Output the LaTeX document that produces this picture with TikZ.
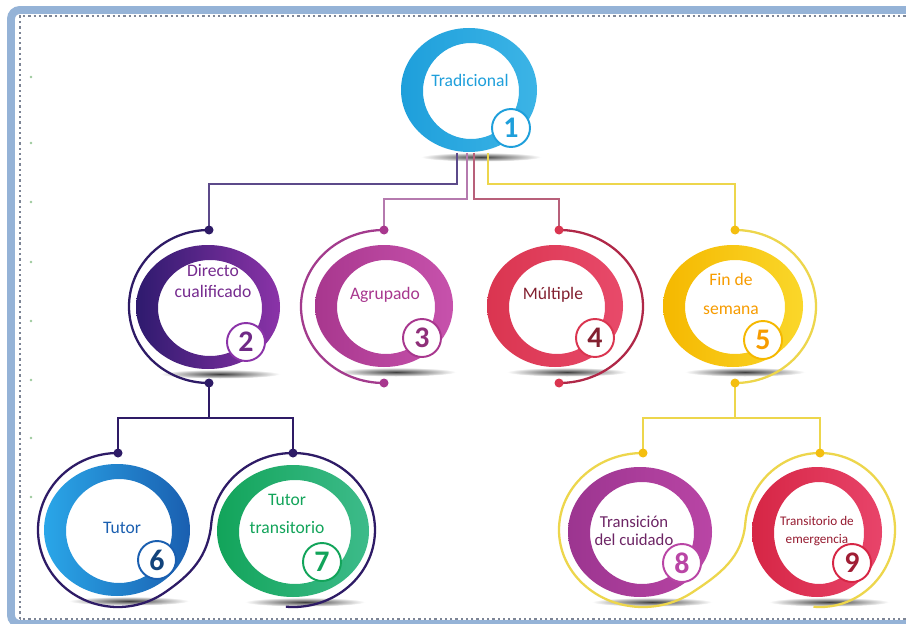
\documentclass[tikz,border=0pt]{standalone}
\usepackage{fontspec}
\setmainfont{Carlito}
\usepackage{tikz}

\definecolor{frameblue}{HTML}{95B3D7}
\definecolor{framedot}{HTML}{7D8596}
\definecolor{r1a}{HTML}{1E9FDB}\definecolor{r1b}{HTML}{3CB4E6}
\definecolor{r2a}{HTML}{2E1A6E}\definecolor{r2b}{HTML}{8B33A8}
\definecolor{r3a}{HTML}{A8378E}\definecolor{r3b}{HTML}{C752AC}
\definecolor{r4a}{HTML}{DA3550}\definecolor{r4b}{HTML}{E84A6A}
\definecolor{r5a}{HTML}{F5B800}\definecolor{r5b}{HTML}{FAD72A}
\definecolor{r6a}{HTML}{2AA6E8}\definecolor{r6b}{HTML}{1A5FB0}
\definecolor{r7a}{HTML}{12A45A}\definecolor{r7b}{HTML}{3DBB8A}
\definecolor{r8a}{HTML}{9C3590}\definecolor{r8b}{HTML}{B945A5}
\definecolor{r9a}{HTML}{D62645}\definecolor{r9b}{HTML}{E8446A}
\definecolor{purpleline}{HTML}{5C4A8A}
\definecolor{darkpurple}{HTML}{2E1B66}
\definecolor{pinkline}{HTML}{B57AAE}
\definecolor{redline}{HTML}{B8607A}
\definecolor{yellowline}{HTML}{EDD64C}
\definecolor{arcthree}{HTML}{A33B8D}
\definecolor{arcfour}{HTML}{B02848}

\begin{document}
\begin{tikzpicture}[x=0.02cm, y=0.02cm,
		label/.style={align=center, font=\fontsize{10}{16}\selectfont},
		badge/.style={circle, fill=white, draw, line width=1.1pt, minimum size=0.76cm, inner sep=0pt, font=\bfseries\fontsize{17}{17}\selectfont},
		link/.style={line width=1.1pt},
		swirl/.style={line width=1.3pt}]
		\useasboundingbox (0,0) rectangle (906,623);
		\fill[white] (0,0) rectangle (906,623);
		\draw[frameblue, line width=4.5pt, rounded corners=5pt] (11,-1) rectangle (918,613);
		\draw[framedot, line width=1.3pt, dash pattern=on 1.3pt off 1.7pt] (20,4) rectangle (914,607);
		\foreach \y in {546,480,421,361,302,243,185,126}
			\fill[green!30!gray!60] (31,\y) circle (1.3);
		\foreach \cx/\cy/\rx/\ry in {469/533/68/62, 208/316/72/62, 384/317/69/61, 555/317/68/61, 733/317/70/61, 117/93/73/66, 293/92/76/66, 640/91/72/65, 817/91/65/65}
			\shade[inner color=black!75, outer color=white] ({\cx+12},{\cy-\ry-5}) ellipse [x radius=60, y radius=4.5];
		\coordinate (s2) at (457,470);
		\coordinate (s3) at (467,470);
		\coordinate (s4) at (474,470);
		\coordinate (s5) at (488,470);
		\coordinate (d2) at (209,393);
		\coordinate (d3) at (384,393);
		\coordinate (d4) at (559,393);
		\coordinate (d5) at (735,393);
		\coordinate (b2) at (209,240);
		\coordinate (b3) at (384,240);
		\coordinate (b4) at (559,240);
		\coordinate (b5) at (735,240);
		\coordinate (j2) at (209,205);
		\coordinate (j5) at (735,205);
		\coordinate (d6) at (118,170);
		\coordinate (d7) at (293,170);
		\coordinate (d8) at (643,170);
		\coordinate (d9) at (820,170);
		\draw[link, purpleline] (s2) -- ++(0,-31) -| (d2);
		\draw[link, pinkline] (s3) -- ++(0,-46) -| (d3);
		\draw[link, redline] (s4) -- ++(0,-46) -| (d4);
		\draw[link, yellowline] (s5) -- ++(0,-31) -| (d5);
		\draw[swirl, darkpurple] (d2) arc[start angle=90, end angle=270, x radius=80, y radius=76.5];
		\draw[swirl, arcthree] (d3) arc[start angle=90, end angle=270, x radius=83, y radius=76.5];
		\draw[swirl, arcfour] (d4) arc[start angle=90, end angle=-90, x radius=84, y radius=76.5];
		\draw[swirl, yellowline] (d5) arc[start angle=90, end angle=-90, x radius=81, y radius=76.5];
		\draw[link, darkpurple] (b2) -- (j2);
		\draw[link, darkpurple] (d6) |- (j2) -| (d7);
		\draw[link, yellowline] (b5) -- (j5);
		\draw[link, yellowline] (d8) |- (j5) -| (d9);
		\draw[swirl, darkpurple] (d6) arc[start angle=90, end angle=305, x radius=80, y radius=77] to[out=34, in=265] (211.3,99.7) arc[start angle=175, end angle=-95, x radius=82, y radius=77];
		\draw[swirl, yellowline] (d8) arc[start angle=90, end angle=305, x radius=84, y radius=77] to[out=33, in=265] (745.3,99.7) arc[start angle=175, end angle=-95, x radius=75, y radius=77];
		\foreach \cx/\cy/\rx/\ry/\ca/\cb in {469/533/68/62/r1a/r1b, 208/316/72/62/r2a/r2b, 384/317/69/61/r3a/r3b, 555/317/68/61/r4a/r4b, 733/317/70/61/r5a/r5b, 117/93/73/66/r6a/r6b, 293/92/76/66/r7a/r7b, 640/91/72/65/r8a/r8b, 817/91/65/65/r9a/r9b}
			\shade[even odd rule, left color=\ca, right color=\cb] (\cx,\cy) ellipse [x radius=\rx, y radius=\ry] ({\cx+2},{\cy-1}) ellipse [x radius={\rx-20}, y radius={\ry-14}];
		\fill[darkpurple] (d2) circle (4.5);
		\fill[darkpurple] (b2) circle (4.5);
		\fill[r3a] (d3) circle (4.5);
		\fill[r3a] (b3) circle (4.5);
		\fill[r4a] (d4) circle (4.5);
		\fill[r4a] (b4) circle (4.5);
		\fill[r5a!80!yellowline] (d5) circle (4.5);
		\fill[r5a!80!yellowline] (b5) circle (4.5);
		\fill[darkpurple] (d6) circle (4.5);
		\fill[darkpurple] (d7) circle (4.5);
		\fill[r5a!80!yellowline] (d8) circle (4.5);
		\fill[r5a!80!yellowline] (d9) circle (4.5);
		\node[label, text=r1a] (t1) at (470,543) {Tradicional};
		\node[label, text=r2b!85!black, font=\fontsize{10}{12.5}\selectfont] (t2) at (213,342) {Directo\\cualificado};
		\node[label, text=r3a] (t3) at (385,328) {Agrupado};
		\node[label, text=r4a!60!black] (t4) at (553,328) {Múltiple};
		\node[label, text=r5a!85!red] (t5) at (731,329) {Fin de\\semana};
		\node[label, text=r6b] (t6) at (122,95) {Tutor};
		\node[label, text=r7a] (t7) at (287,109) {Tutor\\transitorio};
		\node[label, text=r8a!70!black, font=\fontsize{9.5}{10.5}\selectfont] (t8) at (634,92) {Transición\\del cuidado};
		\node[label, text=r9a!70!black, font=\fontsize{7.5}{10}\selectfont] (t9) at (817,92) {Transitorio de\\emergencia};
		\node[badge, draw=r1a, text=r1a] (n1) at (511,495) {1};
		\node[badge, draw=r2b, text=r2b!80!black] (n2) at (246,281) {2};
		\node[badge, draw=r3a, text=r3a!85!black] (n3) at (422,285) {3};
		\node[badge, draw=r4a, text=r4a!60!black] (n4) at (595,285) {4};
		\node[badge, draw=r5a, text=r5a!85!red] (n5) at (763,283) {5};
		\node[badge, draw=r6b, text=r6b!70!black] (n6) at (157,63) {6};
		\node[badge, draw=r7a, text=r7a] (n7) at (322,61) {7};
		\node[badge, draw=r8b, text=r8b] (n8) at (682,60) {8};
		\node[badge, draw=r9a, text=r9a!75!black] (n9) at (852,60) {9};
	\end{tikzpicture}
\end{document}
